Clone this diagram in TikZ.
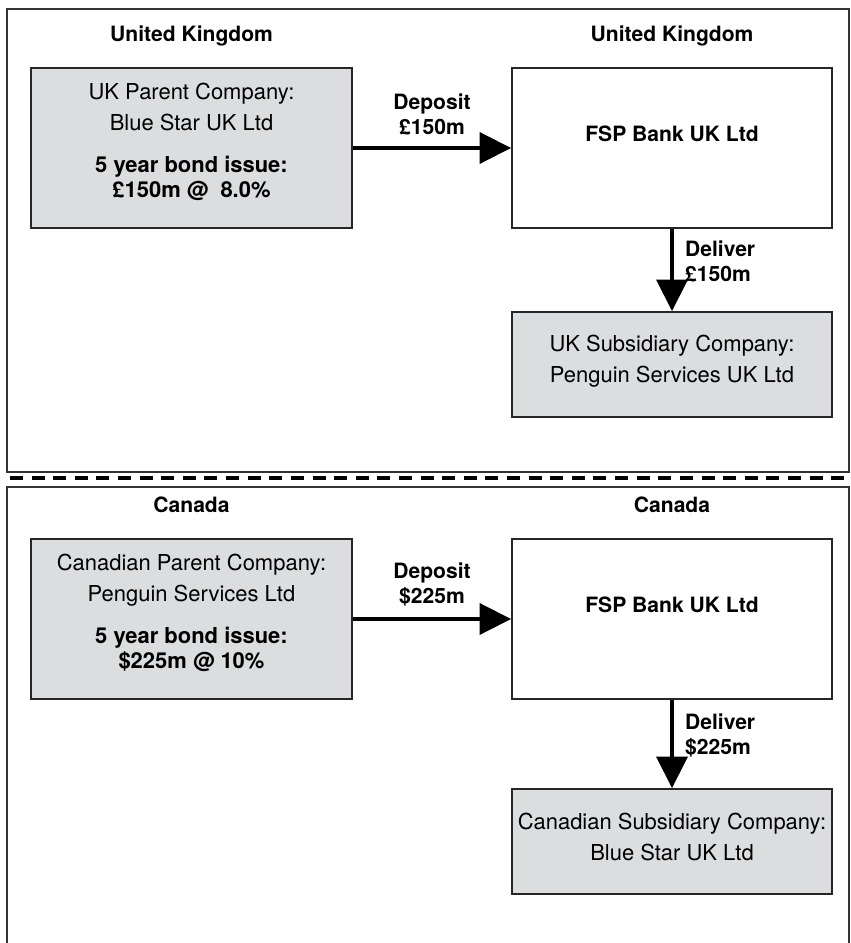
\documentclass[tikz,border=0pt]{standalone}
\usepackage{fontspec}
\setmainfont{TeX Gyre Heros}
\usetikzlibrary{arrows.meta}

\definecolor{boxgray}{RGB}{220,221,223}

\begin{document}
\begin{tikzpicture}[x=0.02cm,y=-0.02cm,font=\fontsize{12.5}{14.2}\selectfont]
    \tikzstyle{panel}=[draw=black!80,line width=0.8pt]
    \tikzstyle{company}=[draw=black!85,line width=1pt,fill=boxgray,minimum width=6.42cm,minimum height=3.2cm]
    \tikzstyle{bank}=[draw=black!85,line width=1pt,fill=white,minimum width=6.4cm,minimum height=3.2cm]
    \tikzstyle{subsidiary}=[company,minimum width=6.4cm,minimum height=2.1cm]
    \tikzstyle{bold}=[font=\fontsize{12}{14.2}\selectfont\bfseries]
    \tikzstyle{heading}=[bold,anchor=base]
    \tikzstyle{flow}=[line width=2.3pt,-{Triangle[length=18pt,width=17.6pt]}]
    \useasboundingbox (0,0) rectangle (851,943);

    % panels and the dashed border between them
    \draw[panel] (7,9) rectangle (849,472);
    \draw[panel] (7,943) -- (7,487) -- (849,487) -- (849,943);
    \draw[line width=2.3pt,dash pattern=on 7.4pt off 4.9pt] (10,478) -- (851,478);

    % United Kingdom
    \node[heading] (ukhead) at (191.5,41) {United Kingdom};
    \node[heading] (ukbankhead) at (672,41) {United Kingdom};
    \node[company] (ukparent) at (191.5,148) {};
    \node[align=center] (ukparenttext) at ([yshift=3.5pt]ukparent.center)
      {UK Parent Company:\\[3.5pt]Blue Star UK Ltd\\[9.7pt]\textbf{5 year bond issue:}\\\textbf{£150m @~~8.0\%}};
    \node[bank] (ukbank) at (672,148) {};
    \node[bold] (ukbanktext) at ([yshift=7.8pt]ukbank.center) {FSP Bank UK Ltd};
    \node[subsidiary] (uksub) at (672,364.5) {};
    \node[align=center] (uksubtext) at ([yshift=2pt]uksub.center)
      {UK Subsidiary Company:\\[3.5pt]Penguin Services UK Ltd};
    \draw[flow] (ukparent) -- node[bold,above=3pt,align=center] {Deposit\\£150m} (ukbank);
    \draw[flow] (ukbank) -- node[bold,right=3pt,yshift=4.8pt,align=left] {Deliver\\£150m} (uksub);

    % Canada
    \node[heading] (cahead) at (191.5,512) {Canada};
    \node[heading] (cabankhead) at (672,512) {Canada};
    \node[company] (caparent) at (191.5,619) {};
    \node[align=center] (caparenttext) at ([yshift=3.5pt]caparent.center)
      {Canadian Parent Company:\\[3.5pt]Penguin Services Ltd\\[9.7pt]\textbf{5 year bond issue:}\\\textbf{\$225m @ 10\%}};
    \node[bank] (cabank) at (672,619) {};
    \node[bold] (cabanktext) at ([yshift=7.8pt]cabank.center) {FSP Bank UK Ltd};
    \node[subsidiary] (casub) at (672,841.5) {};
    \node[align=center] (casubtext) at ([yshift=2.5pt]casub.center)
      {Canadian Subsidiary Company:\\[3.5pt]Blue Star UK Ltd};
    \draw[flow] (caparent) -- node[bold,above=3pt,align=center] {Deposit\\\$225m} (cabank);
    \draw[flow] (cabank) -- node[bold,right=3pt,yshift=4.8pt,align=left] {Deliver\\\$225m} (casub);
\end{tikzpicture}
\end{document}
